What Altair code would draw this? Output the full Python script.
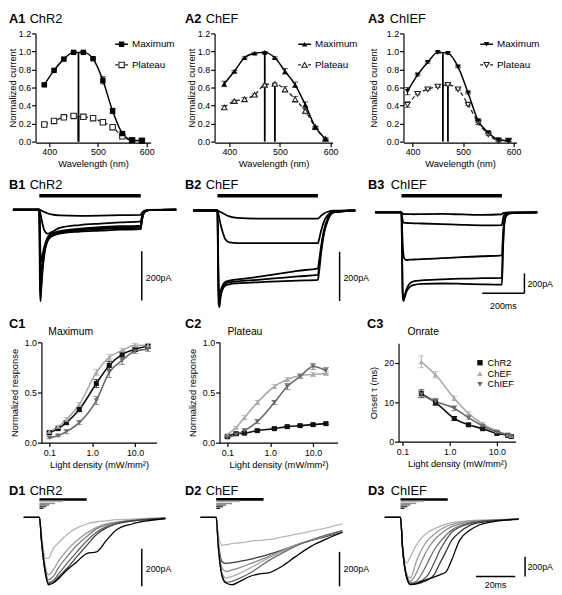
import altair as alt
import pandas as pd

FONT = "Liberation Sans"
W, H = 554, 587

# ================= A: action spectra =================
wavelength = [390, 410, 430, 450, 470, 490, 510, 530, 550, 570, 590]

a1_max = [0.63, 0.79, 0.915, 0.99, 0.99, 0.92, 0.68, 0.34, 0.09, 0.015, 0.01]
a1_max_err = [0.01, 0.01, 0.01, 0.01, 0.01, 0.01, 0.04, 0.03, 0.02, 0.01, 0.01]
a1_plat = [0.19, 0.23, 0.27, 0.285, 0.275, 0.26, 0.215, 0.16, 0.06, 0.015, 0.01]
a1_plat_err = [0.01, 0.01, 0.01, 0.02, 0.02, 0.01, 0.01, 0.01, 0.01, 0.01, 0.01]
a1_peak_wl = [460, 460]
a1_peak_val = [0.99, 0.285]

a2_max = [0.64, 0.78, 0.93, 0.98, 0.99, 0.93, 0.78, 0.63, 0.41, 0.16, 0.03]
a2_max_err = [0.03, 0.01, 0.01, 0.01, 0.01, 0.01, 0.03, 0.03, 0.03, 0.01, 0.01]
a2_plat = [0.38, 0.45, 0.47, 0.52, 0.63, 0.64, 0.58, 0.47, 0.34, 0.16, 0.03]
a2_plat_err = [0.02, 0.01, 0.02, 0.01, 0.01, 0.01, 0.03, 0.03, 0.03, 0.01, 0.01]
a2_peak_wl = [470, 490]
a2_peak_val = [0.99, 0.64]

a3_max = [0.56, 0.74, 0.88, 0.99, 0.98, 0.83, 0.54, 0.23, 0.10, 0.02, 0.01]
a3_max_err = [0.04, 0.01, 0.01, 0.01, 0.01, 0.01, 0.01, 0.02, 0.01, 0.01, 0.01]
a3_plat = [0.41, 0.53, 0.58, 0.61, 0.63, 0.58, 0.41, 0.21, 0.08, 0.01, 0.01]
a3_plat_err = [0.03, 0.01, 0.01, 0.01, 0.01, 0.01, 0.01, 0.02, 0.01, 0.01, 0.01]
a3_peak_wl = [460, 470]
a3_peak_val = [0.98, 0.63]

legend_a = ["Maximum", "Plateau"]

# ================= B: long-pulse photocurrents (t in ms, I in pA) =================
b_light = [0, 500]
b1_t = [-130, 0, 3, 6, 10, 15, 25, 40, 60, 100, 200, 300, 400, 500, 504, 510, 520, 540, 675]
b1_traces = [
    [0, 0, -1, -2, -4, -6, -10, -15, -20, -24, -26, -25, -23, -22, -16, -9, -4, -1, 0],
    [0, 0, -8, -18, -35, -55, -85, -98, -92, -75, -63, -57, -52, -48, -35, -18, -6, -2, 0],
    [0, 0, -80, -180, -213, -190, -150, -115, -98, -88, -78, -72, -68, -65, -46, -23, -8, -2, 0],
    [0, 0, -120, -240, -265, -220, -165, -122, -102, -92, -82, -76, -72, -70, -50, -25, -9, -2, 0],
    [0, 0, -200, -315, -300, -245, -175, -127, -106, -95, -85, -80, -76, -75, -53, -26, -9, -2, 0],
    [0, 0, -320, -373, -320, -260, -182, -130, -110, -98, -90, -86, -82, -80, -56, -27, -10, -2, 0],
]
b2_t = [-122, 0, 3, 6, 10, 15, 25, 40, 60, 100, 200, 300, 400, 500, 505, 515, 530, 550, 580, 686]
b2_traces = [
    [0, 0, -1, -2, -4, -6, -10, -17, -24, -30, -33, -33, -33, -33, -30, -22, -12, -5, -1, 0],
    [0, 0, -8, -18, -35, -55, -85, -118, -130, -133, -133, -133, -133, -133, -120, -85, -45, -18, -4, 0],
    [0, 0, -150, -300, -353, -330, -305, -290, -285, -280, -270, -258, -245, -235, -210, -150, -80, -30, -6, 0],
    [0, 0, -200, -340, -375, -345, -315, -298, -292, -288, -282, -275, -268, -262, -235, -165, -90, -35, -7, 0],
    [0, 0, -250, -380, -393, -355, -322, -305, -300, -296, -292, -288, -285, -282, -255, -180, -95, -38, -8, 0],
]
b3_t = [-132, 0, 3, 6, 10, 15, 25, 40, 60, 100, 200, 300, 400, 500, 504, 510, 520, 540, 676]
b3_traces = [
    [0, 0, -5, -10, -14, -16, -17, -17, -18, -17, -15, -20, -25, -18, -10, -4, -1, 0, 0],
    [0, 0, -40, -80, -100, -105, -107, -108, -110, -112, -118, -125, -130, -128, -80, -30, -8, -2, 0],
    [0, 0, -150, -320, -430, -470, -483, -480, -478, -475, -465, -455, -445, -435, -280, -100, -25, -5, 0],
    [0, 0, -400, -800, -880, -850, -780, -725, -700, -690, -680, -672, -668, -665, -420, -150, -35, -8, 0],
    [0, 0, -450, -850, -900, -870, -805, -760, -738, -725, -722, -725, -730, -733, -460, -165, -40, -8, 0],
]

# ================= C: light-density dependence =================
series = ["ChR2", "ChEF", "ChIEF"]
c_x = [0.1, 0.16, 0.25, 0.5, 1.25, 2.5, 5, 10, 20]
c1_vals = [
    [0.10, 0.14, 0.20, 0.33, 0.59, 0.77, 0.88, 0.93, 0.96],
    [0.11, 0.16, 0.23, 0.38, 0.70, 0.85, 0.92, 0.97, 0.97],
    [0.05, 0.07, 0.11, 0.20, 0.42, 0.70, 0.82, 0.91, 0.93],
]
c1_errs = [
    [0.01, 0.01, 0.02, 0.02, 0.04, 0.04, 0.03, 0.02, 0.02],
    [0.01, 0.01, 0.02, 0.02, 0.03, 0.03, 0.02, 0.02, 0.02],
    [0.01, 0.01, 0.02, 0.02, 0.04, 0.05, 0.04, 0.02, 0.02],
]
c2_vals = [
    [0.06, 0.09, 0.095, 0.12, 0.14, 0.16, 0.17, 0.18, 0.19],
    [0.08, 0.15, 0.25, 0.40, 0.56, 0.63, 0.67, 0.68, 0.69],
    [0.05, 0.08, 0.12, 0.21, 0.40, 0.56, 0.66, 0.76, 0.72],
]
c2_errs = [
    [0.01, 0.01, 0.01, 0.01, 0.01, 0.01, 0.01, 0.01, 0.01],
    [0.01, 0.01, 0.02, 0.02, 0.02, 0.02, 0.02, 0.02, 0.02],
    [0.01, 0.01, 0.02, 0.02, 0.02, 0.03, 0.02, 0.03, 0.03],
]
c3_x = [0.25, 0.5, 1.25, 2.5, 5, 10, 17, 20]
c3_vals = [
    [12.2, 10.0, 5.9, 4.3, 3.3, 2.1, 1.6, 1.3],
    [20.3, 17.0, 11.0, 7.2, 4.5, 2.7, 1.8, 1.5],
    [12.0, 10.2, 8.5, 6.1, 4.0, 2.5, 1.7, 1.4],
]
c3_errs = [
    [1.0, 0.8, 0.5, 0.3, 0.3, 0.2, 0.2, 0.2],
    [1.5, 0.8, 0.6, 0.4, 0.3, 0.2, 0.2, 0.2],
    [0.8, 0.8, 0.6, 0.4, 0.3, 0.2, 0.2, 0.2],
]

# ================= D: short-pulse photocurrents (t in ms, I in pA) =================
d_pulse_ms = [24, 12, 8, 5, 3.5, 2]
d1_bar_lvl = [96, 86, 75, 67, 58, 49]
d2_bar_lvl = [105, 93, 81, 72, 63, 53]
d3_bar_lvl = [183, 163, 143, 127, 110, 93]

d1_t = [-8, 0, 1, 3, 4.5, 7, 10, 14, 19, 24, 29, 34, 39, 47, 55, 64]
d1_traces = [
    [0, 0, -88, -219, -219, -167, -132, -91, -56, -35, -23, -18, -12, -9, -5, -2],
    [0, 0, -105, -263, -307, -281, -228, -175, -123, -84, -53, -35, -25, -14, -7, -4],
    [0, 0, -114, -281, -333, -316, -263, -210, -149, -102, -61, -40, -28, -16, -9, -4],
    [0, 0, -123, -289, -347, -337, -298, -246, -184, -126, -79, -49, -32, -18, -11, -4],
    [0, 0, -123, -298, -354, -347, -316, -272, -210, -149, -91, -56, -35, -19, -11, -4],
    [0, 0, -123, -298, -360, -351, -324, -281, -237, -193, -184, -123, -67, -35, -18, -7],
]
d2_t = [-8, 0, 1, 3, 5, 8, 12, 17, 22, 27, 33, 40, 48, 56, 64]
d2_traces = [
    [0, 0, -95, -162, -158, -152, -147, -139, -133, -128, -114, -99, -80, -61, -38],
    [0, 0, -133, -257, -267, -263, -255, -244, -229, -213, -191, -162, -133, -110, -86],
    [0, 0, -152, -295, -314, -305, -291, -270, -248, -225, -196, -162, -133, -105, -80],
    [0, 0, -162, -324, -352, -343, -324, -295, -263, -232, -200, -162, -130, -101, -76],
    [0, 0, -162, -333, -377, -371, -352, -324, -286, -248, -210, -168, -133, -101, -76],
    [0, 0, -162, -343, -381, -391, -371, -343, -328, -320, -286, -229, -168, -124, -86],
]
d3_t = [-8, 0, 1, 3, 5, 8, 11, 14, 17, 20, 23, 26, 30, 35, 40, 48, 60]
d3_traces = [
    [0, 0, -266, -466, -400, -283, -200, -150, -117, -90, -67, -53, -43, -33, -27, -23, -17],
    [0, 0, -300, -566, -616, -450, -316, -226, -173, -127, -93, -73, -53, -40, -33, -27, -17],
    [0, 0, -300, -583, -649, -566, -433, -316, -233, -173, -127, -93, -67, -47, -37, -27, -17],
    [0, 0, -300, -593, -666, -649, -566, -450, -333, -250, -183, -127, -87, -57, -40, -30, -17],
    [0, 0, -300, -599, -676, -666, -639, -583, -466, -333, -233, -150, -100, -63, -43, -30, -17],
    [0, 0, -300, -599, -683, -676, -659, -633, -583, -466, -350, -233, -150, -83, -53, -33, -17],
    [0, 0, -300, -599, -683, -673, -649, -626, -606, -583, -556, -433, -233, -133, -77, -40, -20],
]

# scale bars (data units)
b1_sb = {"t": [505, 505], "I": [-370, -170]}
b2_sb = {"t": [608, 608], "I": [-368, -168]}
b3_sb_v = {"t": [612, 612], "I": [-820, -620]}
b3_sb_h = {"t": [402, 612], "I": [-820, -820]}
d1_sb = {"t": [52, 52], "I": [-368, -168]}
d2_sb = {"t": [62.5, 62.5], "I": [-400, -200]}
d3_sb_v = {"t": [63.3, 63.3], "I": [-600, -400]}
d3_sb_h = {"t": [38.3, 58.3], "I": [-600, -600]}

# ================= styles (not data) =================
SER_COLORS = ["#111111", "#aaaaaa", "#6a6a6a"]
SER_SHAPES = ["square", "triangle-up", "triangle-down"]
PLAT = "#222222"
D1_COLORS = ["#b4b4b4", "#9a9a9a", "#808080", "#606060", "#404040", "#000000"]
D2_COLORS = ["#b8b8b8", "#3c3c3c", "#8c8c8c", "#a8a8a8", "#6a6a6a", "#000000"]
D3_COLORS = ["#b0b0b0", "#9c9c9c", "#888888", "#6e6e6e", "#555555", "#333333", "#000000"]
BAR_COLORS = ["#000000", "#b0b0b0", "#909090", "#707070", "#505050", "#303030"]
BAR_WIDTHS = [2.6, 1.5, 1.5, 1.5, 1.5, 1.5]


def label(s, x, y, size=13, bold=False, align="left"):
    return alt.Chart(pd.DataFrame({"s": [s]})).mark_text(
        align=align, baseline="middle", font=FONT, fontSize=size,
        fontWeight="bold" if bold else "normal", color="black",
    ).encode(x=alt.value(x), y=alt.value(y), text="s:N")


def panel_title(letter, name, x, y, dx=21, size=13):
    return [label(letter, x, y, size=size, bold=True), label(name, x + dx, y, size=size)]


# ---------------- A panels ----------------
def panel_a(maxv, maxe, platv, plate, peak_wl, peak_val, shape, xdom, xrng, ytx):
    xs = alt.Scale(domain=xdom, range=xrng, nice=False, zero=False)
    ys = alt.Scale(domain=[0, 1.2], range=[130, 20], nice=False, zero=False)
    xax = alt.Axis(orient="bottom", offset=131 - H, values=[400, 500, 600], format="d",
                   title="Wavelength (nm)", titleY=16, labelPadding=1)
    yax = alt.Axis(orient="left", offset=-xrng[0], values=[0, 0.2, 0.4, 0.6, 0.8, 1.0, 1.2],
                   format=".1f", title="Normalized current", titleX=ytx, labelPadding=1)

    def X(f):
        return alt.X(f"{f}:Q", scale=xs, axis=xax)

    def Y(f):
        return alt.Y(f"{f}:Q", scale=ys, axis=yax)

    dmax = pd.DataFrame({"wl": wavelength, "v": maxv,
                         "lo": [v - e for v, e in zip(maxv, maxe)],
                         "hi": [v + e for v, e in zip(maxv, maxe)]})
    dplat = pd.DataFrame({"wl": wavelength, "v": platv,
                          "lo": [v - e for v, e in zip(platv, plate)],
                          "hi": [v + e for v, e in zip(platv, plate)]})
    dpeak = pd.DataFrame({"wl": peak_wl, "val": peak_val, "zero": [0] * len(peak_wl)})
    layers = []
    for d, col in [(dplat, PLAT), (dmax, "black")]:
        layers.append(alt.Chart(d).mark_rule(color=col, strokeWidth=1).encode(x=X("wl"), y=Y("lo"), y2="hi"))
        layers.append(alt.Chart(d).mark_tick(orient="horizontal", size=6, thickness=1, color=col).encode(x=X("wl"), y=Y("hi")))
        layers.append(alt.Chart(d).mark_tick(orient="horizontal", size=6, thickness=1, color=col).encode(x=X("wl"), y=Y("lo")))
    layers.append(alt.Chart(dplat).mark_line(color=PLAT, strokeWidth=1.3, strokeDash=[4, 3],
                                             interpolate="monotone").encode(x=X("wl"), y=Y("v")))
    layers.append(alt.Chart(dmax).mark_line(color="black", strokeWidth=1.5,
                                            interpolate="monotone").encode(x=X("wl"), y=Y("v")))
    layers.append(alt.Chart(dpeak).mark_rule(color="black", strokeWidth=1.8).encode(x=X("wl"), y=Y("zero"), y2="val"))
    layers.append(alt.Chart(dplat).mark_point(shape=shape, filled=True, fill="white", stroke=PLAT,
                                              strokeWidth=1.1, size=30, opacity=1).encode(x=X("wl"), y=Y("v")))
    layers.append(alt.Chart(dmax).mark_point(shape=shape, filled=True, color="black",
                                             size=30, opacity=1).encode(x=X("wl"), y=Y("v")))
    return alt.layer(*layers)


def legend_a_items(x0, shape):
    out = []
    one = pd.DataFrame({"s": ["x"]})
    for i, (lab, y) in enumerate(zip(legend_a, [31, 52])):
        if i == 0:
            out.append(alt.Chart(one).mark_rule(color="black", strokeWidth=1.5).encode(
                x=alt.value(x0), x2=alt.value(x0 + 13), y=alt.value(y)))
            out.append(alt.Chart(one).mark_point(shape=shape, filled=True, color="black", size=30, opacity=1).encode(
                x=alt.value(x0 + 6.5), y=alt.value(y)))
        else:
            out.append(alt.Chart(one).mark_rule(color=PLAT, strokeWidth=1.3, strokeDash=[3, 2]).encode(
                x=alt.value(x0), x2=alt.value(x0 + 13), y=alt.value(y)))
            out.append(alt.Chart(one).mark_point(shape=shape, filled=True, fill="white", stroke=PLAT,
                                                 strokeWidth=1.1, size=30, opacity=1).encode(
                x=alt.value(x0 + 6.5), y=alt.value(y)))
        out.append(label(lab, x0 + 17, y, size=10))
    return out


# ---------------- B / D trace panels ----------------
def traces_df(knots, traces):
    rows = []
    for k, vals in enumerate(traces):
        for t, v in zip(knots, vals):
            rows.append({"t": t, "I": v, "trace": f"tr{k}"})
    return pd.DataFrame(rows)


def trace_panel(knots, traces, colors, xdom, xrng, ydom, yrng, width):
    xs = alt.Scale(domain=xdom, range=xrng, nice=False, zero=False)
    ys = alt.Scale(domain=ydom, range=yrng, nice=False, zero=False)
    df = traces_df(knots, traces)
    names = [f"tr{k}" for k in range(len(traces))]
    line = alt.Chart(df).mark_line(strokeWidth=width, interpolate="monotone").encode(
        x=alt.X("t:Q", scale=xs, axis=None),
        y=alt.Y("I:Q", scale=ys, axis=None),
        color=alt.Color("trace:N", scale=alt.Scale(domain=names, range=colors), legend=None),
    )
    return line, xs, ys


def vbar(d, xs, ys, w=1.5):
    return alt.Chart(pd.DataFrame(d)).mark_line(color="black", strokeWidth=w).encode(
        x=alt.X("t:Q", scale=xs, axis=None), y=alt.Y("I:Q", scale=ys, axis=None))


def data_text(s, t, i, xs, ys, size=9, align="left"):
    return alt.Chart(pd.DataFrame({"s": [s], "t": [t], "I": [i]})).mark_text(
        align=align, baseline="middle", font=FONT, fontSize=size, color="black"
    ).encode(x=alt.X("t:Q", scale=xs, axis=None), y=alt.Y("I:Q", scale=ys, axis=None), text="s:N")


def b_panel(knots, traces, xdom, xrng, ydom, yrng, light_lvl, bars, labels):
    line, xs, ys = trace_panel(knots, traces, ["black"] * len(traces), xdom, xrng, ydom, yrng, 1.8)
    light = alt.Chart(pd.DataFrame({"t0": [b_light[0]], "t1": [b_light[1]], "lvl": [light_lvl]})).mark_rule(
        color="black", strokeWidth=3.5).encode(
        x=alt.X("t0:Q", scale=xs, axis=None), x2="t1", y=alt.Y("lvl:Q", scale=ys, axis=None))
    layers = [line, light] + [vbar(b, xs, ys) for b in bars]
    layers += [data_text(s, t, i, xs, ys, align=a) for (s, t, i, a) in labels]
    return alt.layer(*layers)


def d_panel(knots, traces, colors, xdom, xrng, ydom, yrng, bar_lvl, bars, labels):
    line, xs, ys = trace_panel(knots, traces, colors, xdom, xrng, ydom, yrng, 1.3)
    dbar = pd.DataFrame({"t0": [0] * len(d_pulse_ms), "t1": d_pulse_ms, "lvl": bar_lvl,
                         "col": BAR_COLORS, "w": BAR_WIDTHS})
    stair = alt.Chart(dbar).mark_rule().encode(
        x=alt.X("t0:Q", scale=xs, axis=None), x2="t1", y=alt.Y("lvl:Q", scale=ys, axis=None),
        color=alt.Color("col:N", scale=None), strokeWidth=alt.StrokeWidth("w:Q", scale=None))
    layers = [line, stair] + [vbar(b, xs, ys) for b in bars]
    layers += [data_text(s, t, i, xs, ys, align=a) for (s, t, i, a) in labels]
    return alt.layer(*layers)


# ---------------- C panels ----------------
def panel_c(xvals, vals, errs, xdom, xrng, ydom, yrng, yvalues, yfmt, ytitle, ytx, legend=None):
    xs = alt.Scale(type="log", domain=xdom, range=xrng, nice=False)
    ys = alt.Scale(domain=ydom, range=yrng, nice=False, zero=False)
    xax = alt.Axis(orient="bottom", offset=yrng[0] - H, values=[0.1, 1, 10], format=".1f",
                   title="Light density (mW/mm²)", titleY=17, labelPadding=2)
    yax = alt.Axis(orient="left", offset=-xrng[0], values=yvalues, format=yfmt,
                   title=ytitle, titleX=ytx, labelPadding=1)
    X = alt.X("x:Q", scale=xs, axis=xax)

    def Y(f):
        return alt.Y(f"{f}:Q", scale=ys, axis=yax)

    layers = []
    frames = []
    for s, col, vs, es in zip(series, SER_COLORS, vals, errs):
        d = pd.DataFrame({"x": xvals, "v": vs,
                          "lo": [v - e for v, e in zip(vs, es)],
                          "hi": [v + e for v, e in zip(vs, es)],
                          "series": [s] * len(xvals)})
        frames.append(d)
        layers.append(alt.Chart(d).mark_rule(color=col, strokeWidth=1).encode(x=X, y=Y("lo"), y2="hi"))
        layers.append(alt.Chart(d).mark_tick(orient="horizontal", size=6, thickness=1, color=col).encode(x=X, y=Y("hi")))
        layers.append(alt.Chart(d).mark_tick(orient="horizontal", size=6, thickness=1, color=col).encode(x=X, y=Y("lo")))
        layers.append(alt.Chart(d).mark_line(color=col, strokeWidth=1.6, interpolate="monotone").encode(x=X, y=Y("v")))
    df = pd.concat(frames, ignore_index=True)
    cs = alt.Scale(domain=series, range=SER_COLORS)
    ss = alt.Scale(domain=series, range=SER_SHAPES)
    if legend is not None:
        pts = alt.Chart(df).mark_point(filled=True, size=26, opacity=1).encode(
            x=X, y=Y("v"),
            color=alt.Color("series:N", scale=cs, legend=legend),
            shape=alt.Shape("series:N", scale=ss, legend=legend))
    else:
        pts = alt.Chart(df).mark_point(filled=True, size=26, opacity=1).encode(
            x=X, y=Y("v"),
            color=alt.Color("series:N", scale=cs, legend=None),
            shape=alt.Shape("series:N", scale=ss, legend=None))
    layers.append(pts)
    return alt.layer(*layers)


c3_legend = alt.Legend(orient="none", legendX=474, legendY=350, title=None, labelFont=FONT,
                       labelFontSize=9.5, labelColor="black", symbolSize=30, labelOffset=3,
                       rowPadding=0, padding=0)

layers = []

# Row A
layers.append(panel_a(a1_max, a1_max_err, a1_plat, a1_plat_err, a1_peak_wl, a1_peak_val,
                      "square", [372, 608], [27, 144], -18))
layers.append(panel_a(a2_max, a2_max_err, a2_plat, a2_plat_err, a2_peak_wl, a2_peak_val,
                      "triangle-up", [371, 604], [209, 329], -18.5))
layers.append(panel_a(a3_max, a3_max_err, a3_plat, a3_plat_err, a3_peak_wl, a3_peak_val,
                      "triangle-down", [382, 606], [401, 516], -25.5))
layers += legend_a_items(108, "square")
layers += legend_a_items(294, "triangle-up")
layers += legend_a_items(479, "triangle-down")
layers += panel_title("A1", "ChR2", 0, 5)
layers += panel_title("A2", "ChEF", 179, 5)
layers += panel_title("A3", "ChIEF", 365, 5, dx=22)

# Row B
layers.append(b_panel(b1_t, b1_traces, [-130, 675], [4, 170], [-400, 0], [299, 199], 56,
                      [b1_sb], [("200pA", 525, -280, "left")]))
layers.append(b_panel(b2_t, b2_traces, [-122, 686], [187, 352], [-400, 0], [300, 200], 60,
                      [b2_sb], [("200pA", 627, -276, "left")]))
layers.append(b_panel(b3_t, b3_traces, [-132, 676], [372, 537], [-1000, 0], [302, 202], 170,
                      [b3_sb_v, b3_sb_h], [("200pA", 627, -730, "left"), ("200ms", 507, -950, "center")]))
layers += panel_title("B1", "ChR2", 0, 174)
layers += panel_title("B2", "ChEF", 179, 174)
layers += panel_title("B3", "ChIEF", 365, 174, dx=23)

# Row C
layers.append(panel_c(c_x, c1_vals, c1_errs, [0.0655, 31.8], [33, 150], [0, 1], [436, 334],
                      [0, 0.5, 1.0], ".1f", "Normalized response", -22))
layers.append(panel_c(c_x, c2_vals, c2_errs, [0.0655, 37.4], [214, 334], [0, 1], [436, 334],
                      [0, 0.5, 1.0], ".1f", "Normalized response", -22.5))
layers.append(panel_c(c3_x, c3_vals, c3_errs, [0.0825, 24.9], [396, 515], [0, 25], [435, 335],
                      [0, 10, 20], "d", "Onset τ (ms)", -20.5, legend=c3_legend))
layers.append(label("C1", 0, 315, bold=True))
layers.append(label("Maximum", 40, 324, size=10.5))
layers.append(label("C2", 179, 315, bold=True))
layers.append(label("Plateau", 222, 324, size=10.5))
layers.append(label("C3", 364, 315, bold=True))
layers.append(label("Onrate", 405, 324, size=10.5))

# Row D
layers.append(d_panel(d1_t, d1_traces, D1_COLORS, [-8, 64.5], [15, 160], [-400, 0], [588, 512],
                      d1_bar_lvl, [d1_sb], [("200pA", 54, -274, "left")]))
layers.append(d_panel(d2_t, d2_traces, D2_COLORS, [-8.3, 64], [194, 339], [-400, 0], [582, 512],
                      d2_bar_lvl, [d2_sb], [("200pA", 64.5, -297, "left")]))
layers.append(d_panel(d3_t, d3_traces, D3_COLORS, [-8, 60.5], [382, 519], [-800, 0], [592, 512],
                      d3_bar_lvl, [d3_sb_v, d3_sb_h],
                      [("200pA", 64.5, -500, "left"), ("20ms", 48.3, -690, "center")]))
layers += panel_title("D1", "ChR2", 0, 485)
layers += panel_title("D2", "ChEF", 179, 485)
layers += panel_title("D3", "ChIEF", 365, 485, dx=23)

chart = (
    alt.layer(*layers)
    .resolve_scale(x="independent", y="independent", color="independent", shape="independent")
    .properties(width=W, height=H, padding=0)
    .configure_view(stroke=None)
    .configure_axis(
        grid=False, domainColor="black", domainWidth=1.2, tickColor="black", tickWidth=1.2,
        tickSize=4, labelFont=FONT, labelFontSize=9, labelColor="black", titleFont=FONT,
        titleFontSize=9.5, titleFontWeight="normal", titleColor="black", labelFlush=False,
    )
)

chart.save("out.html", embed_options={"renderer": "svg", "actions": False})
